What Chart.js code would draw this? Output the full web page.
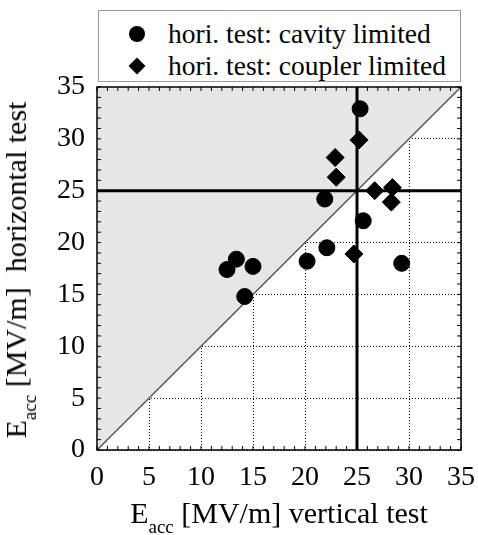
<!DOCTYPE html>
<html>
<head>
<meta charset="utf-8">
<script src="https://cdn.jsdelivr.net/npm/chart.js@4.4.1/dist/chart.umd.min.js"></script>
<style>
body { margin: 0; background: #fff; font-family: "Liberation Serif", "Times New Roman", serif; }
#wrap { position: relative; width: 478px; height: 535px; }
#wrap canvas { position: absolute; left: 0; top: 0; }
.legend { position: absolute; left: 98px; top: 10px; width: 361px; height: 70px; border: 1px solid #999; background: #fff; font-size: 27.5px; }
.legend .item { position: absolute; left: 0; height: 30px; line-height: 30px; white-space: nowrap; }
.legend .mk { position: absolute; left: 30px; top: 7px; width: 16px; height: 16px; background: #000; }
.legend .dot { border-radius: 50%; }
.legend .dia { width: 12px; height: 12px; left: 32px; top: 9px; transform: rotate(45deg); }
.legend .txt { position: absolute; left: 69px; top: 0; }
.title { position: absolute; white-space: nowrap; font-size: 30px; line-height: 30px; }
.title sub { font-size: 19px; vertical-align: -10px; }
#xtitle { left: 279px; top: 520px; transform: translate(-50%, -50%); }
#ytitle { left: 23px; top: 270px; transform: translate(-50%, -50%) rotate(-90deg); }
</style>
</head>
<body>
<div id="wrap">
  <canvas id="chart" width="478" height="535"></canvas>
  <div class="legend">
    <div class="item" style="top:8px"><div class="mk dot"></div><span class="txt">hori. test: cavity limited</span></div>
    <div class="item" style="top:40px"><div class="mk dia"></div><span class="txt">hori. test: coupler limited</span></div>
  </div>
  <div class="title" id="xtitle">E<sub>acc</sub> [MV/m] vertical test</div>
  <div class="title" id="ytitle">E<sub>acc</sub> [MV/m]&nbsp; horizontal test</div>
</div>
<script>
// values (vertical test, horizontal test)
const cavityX = [25.3, 21.9, 25.6, 22.1, 20.2, 29.3, 13.4, 12.5, 15.0, 14.2];
const cavityY = [32.9, 24.2, 22.1, 19.5, 18.2, 18.0, 18.4, 17.4, 17.7, 14.8];
const couplerX = [25.2, 22.9, 23.0, 26.7, 28.4, 28.3, 24.7];
const couplerY = [29.9, 28.2, 26.3, 25.0, 25.3, 23.9, 18.9];
const axisMin = 0;
const axisMax = 35;
const tickStep = 5;
const goal = 25;

function toPoints(xs, ys) {
    return xs.map((x, i) => ({ x: x, y: ys[i] }));
}

const serif = '"Liberation Serif", "Times New Roman", serif';

// frame, minor ticks
const framePlugin = {
    id: 'frame',
    afterDraw(chart) {
        const ctx = chart.ctx;
        const a = chart.chartArea;
        const xs = chart.scales.x, ys = chart.scales.y;
        ctx.save();
        ctx.strokeStyle = '#000';
        ctx.lineWidth = 1;
        ctx.beginPath();
        for (let v = axisMin; v <= axisMax; v++) {
            const len = 4;
            const px = xs.getPixelForValue(v);
            ctx.moveTo(px, a.bottom); ctx.lineTo(px, a.bottom - len);
            ctx.moveTo(px, a.top); ctx.lineTo(px, a.top + len);
            const py = ys.getPixelForValue(v);
            ctx.moveTo(a.left, py); ctx.lineTo(a.left + len, py);
            ctx.moveTo(a.right, py); ctx.lineTo(a.right - len, py);
        }
        ctx.stroke();
        ctx.lineWidth = 1.5;
        ctx.strokeRect(a.left, a.top, a.right - a.left, a.bottom - a.top);
        ctx.restore();
    }
};

new Chart(document.getElementById('chart'), {
    type: 'scatter',
    data: {
        datasets: [
            {
                type: 'line',
                data: [{ x: axisMin, y: axisMin }, { x: axisMax, y: axisMax }],
                borderColor: '#555',
                borderWidth: 1.5,
                backgroundColor: '#e6e6e6',
                fill: 'end',
                pointRadius: 0,
                order: 5
            },
            {
                type: 'line',
                data: [{ x: goal, y: axisMin }, { x: goal, y: axisMax }],
                borderColor: '#000',
                borderWidth: 3,
                pointRadius: 0,
                fill: false,
                order: 4
            },
            {
                type: 'line',
                data: [{ x: axisMin, y: goal }, { x: axisMax, y: goal }],
                borderColor: '#000',
                borderWidth: 3,
                pointRadius: 0,
                fill: false,
                order: 4
            },
            {
                label: 'hori. test: cavity limited',
                data: toPoints(cavityX, cavityY),
                pointStyle: 'circle',
                pointRadius: 8,
                backgroundColor: '#000',
                borderColor: '#000',
                order: 1
            },
            {
                label: 'hori. test: coupler limited',
                data: toPoints(couplerX, couplerY),
                pointStyle: 'rectRot',
                pointRadius: 9,
                backgroundColor: '#000',
                borderColor: '#000',
                order: 0
            }
        ]
    },
    options: {
        responsive: false,
        animation: false,
        layout: { padding: { top: 87, right: 17, left: 0, bottom: 0 } },
        plugins: { legend: { display: false }, tooltip: { enabled: false } },
        scales: {
            x: {
                type: 'linear',
                min: axisMin, max: axisMax,
                afterFit: s => { s.height = 85; s.paddingLeft = 0; s.paddingRight = 0; },
                ticks: { stepSize: tickStep, color: '#000', padding: 11, font: { family: serif, size: 28 } },
                grid: { color: '#000', lineWidth: 1, drawTicks: false },
                border: { display: false, dash: [1, 2] }
            },
            y: {
                type: 'linear',
                min: axisMin, max: axisMax,
                afterFit: s => { s.width = 97; s.paddingTop = 0; s.paddingBottom = 0; },
                ticks: { stepSize: tickStep, color: '#000', padding: 12, font: { family: serif, size: 28 } },
                grid: { color: '#000', lineWidth: 1, drawTicks: false },
                border: { display: false, dash: [1, 2] }
            }
        }
    },
    plugins: [framePlugin]
});
</script>
</body>
</html>
